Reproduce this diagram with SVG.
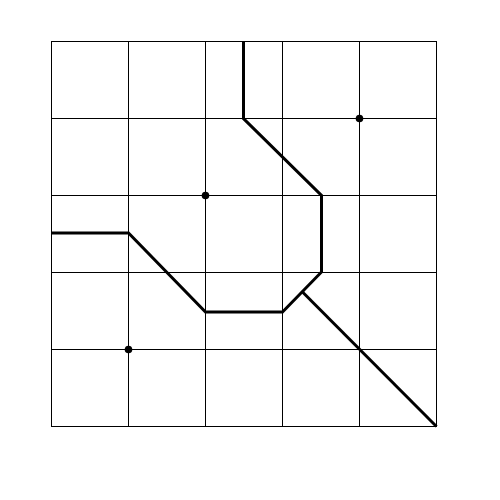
<svg xmlns="http://www.w3.org/2000/svg" width="500" height="500" viewBox="0 0 500 500">
<style>
.grid{stroke:#000;stroke-width:1;fill:none}
.edge{stroke:#000;stroke-width:3;fill:none;stroke-linejoin:miter}
.site{fill:#000}
</style>
<rect width="500" height="500" fill="#fff"/>
<g id="grid" class="grid">
<rect x="51.5" y="41.5" width="385" height="385"/>
<path d="M128.5 41.5V426.5M205.5 41.5V426.5M282.5 41.5V426.5M359.5 41.5V426.5M51.5 118.5H436.5M51.5 195.5H436.5M51.5 272.5H436.5M51.5 349.5H436.5"/>
</g>
<g id="connectors">
<path class="edge" d="M243.5 41V118.5L321.5 195.5V272L282.5 312H205.5L128.5 233H51.5"/>
<path class="edge" d="M302.5 292L436.5 426.5"/>
</g>
<g id="site1"><circle class="site" cx="359.5" cy="118.5" r="3.8"/></g>
<g id="site2"><circle class="site" cx="205.5" cy="195.5" r="3.8"/></g>
<g id="site3"><circle class="site" cx="128.5" cy="349.5" r="3.8"/></g>
</svg>
